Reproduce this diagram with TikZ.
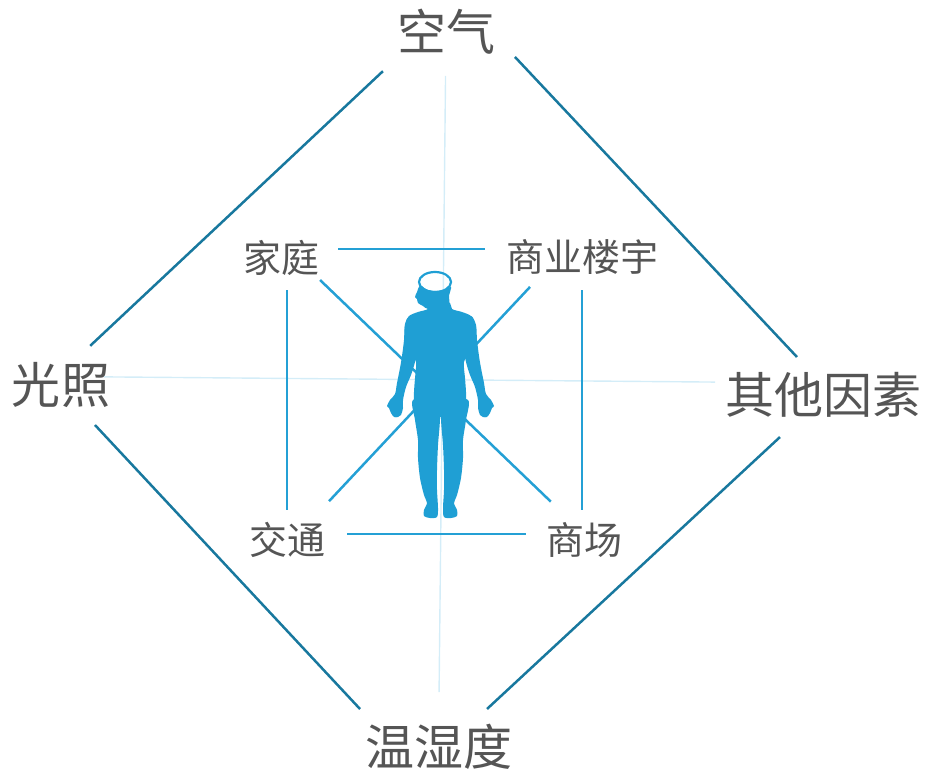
\documentclass[tikz,border=0pt]{standalone}
\usepackage{fontspec}
\newfontfamily\cjk{Noto Sans CJK SC}
\usepackage{tikz}

\definecolor{outerline}{HTML}{18789E}
\definecolor{innerline}{HTML}{24A0D5}
\definecolor{bodyblue}{HTML}{1F9FD4}
\definecolor{gridline}{HTML}{D4EDF8}
\definecolor{labelgray}{HTML}{555555}

\begin{document}
\begin{tikzpicture}[
  x=1pt, y=-1pt,
  factor/.style={font=\cjk\fontsize{49}{49}\selectfont, text=labelgray,
                 inner sep=0pt, text height=41pt, text depth=4pt},
  place/.style={font=\cjk\fontsize{38}{38}\selectfont, text=labelgray,
                inner sep=0pt, text height=32pt, text depth=3pt},
  outer/.style={draw=outerline, line width=2.5pt},
  inner/.style={draw=innerline, line width=2.5pt},
  axis/.style={draw=gridline, line width=1.4pt},
  body/.style={fill=bodyblue}
]
  \useasboundingbox (0,0) rectangle (925,771);

  % four outer factors
  \node[factor] (air)   at (446,32)      {空气};
  \node[factor] (light) at (61,384.5)    {光照};
  \node[factor] (other) at (823,395)     {其他因素};
  \node[factor] (humid) at (438.5,746.5) {温湿度};

  % four places around the person
  \node[place] (home)    at (281.5,257.5) {家庭};
  \node[place] (office)  at (582,257)     {商业楼宇};
  \node[place] (traffic) at (287,540)     {交通};
  \node[place] (mall)    at (584,540)     {商场};

  % faint cross behind everything
  \draw[axis, shorten <=44pt, shorten >=54.5pt] (air.center) -- (humid.center);
  \draw[axis, shorten <=43pt, shorten >=108pt]
    ([yshift=8pt]light.center) -- ([yshift=12pt]other.center);

  % inner square and its diagonals
  \draw[inner, shorten <=56.5pt, shorten >=97pt]
    ([yshift=8.5pt]home.center) -- ([yshift=8pt]office.center);
  \draw[inner, shorten <=60pt, shorten >=58pt]
    ([yshift=6pt]traffic.center) -- ([yshift=6pt]mall.center);
  \draw[inner, shorten <=32.5pt, shorten >=30pt]
    (home.center -| traffic.center) -- (traffic.center);
  \draw[inner, shorten <=33pt, shorten >=30pt]
    (office.center) -- (office.center |- mall.center);
  \draw[inner, shorten <=53.5pt, shorten >=46pt]
    ([yshift=14.5pt]home.center) -- ([yshift=6.5pt]mall.center);
  \draw[inner, shorten <=76pt, shorten >=61.5pt]
    ([yshift=25.5pt]office.center) -- ([yshift=-6pt]traffic.center);

  % outer diamond, broken at the labels
  \draw[outer, shorten <=86.5pt, shorten >=40pt]
    ([yshift=20pt]air.center) -- ([yshift=11.3pt]light.center);
  \draw[outer, shorten <=100.7pt, shorten >=38pt]
    ([yshift=48.4pt]air.center) -- ([yshift=10.3pt]other.center);
  \draw[outer, shorten <=58.7pt, shorten >=66.2pt]
    ([yshift=-2.1pt]other.center) -- ([yshift=-7.5pt]humid.center);
  \draw[outer, shorten <=49.8pt, shorten >=115pt]
    ([yshift=-4.1pt]light.center) -- ([yshift=-46.6pt]humid.center);

  % the person: torso, arms, legs, head
  \fill[body] plot[smooth cycle, tension=0.5] coordinates {
    (430,303) (428,309) (418,312) (409,316) (405,324) (405,338)
    (410,352) (416,362) (415,378) (414,392) (414,408) (418,420)
    (440,417) (462,420) (466,408) (466,392) (465,378) (464,362)
    (470,352) (475,338) (475,324) (471,316) (462,312) (452,309)
    (450,303) (440,300)};
  \fill[body] plot[smooth cycle, tension=0.5] coordinates {
    (410,316) (405,325) (404,340) (402,356) (400,368) (397,383)
    (395,394) (390,400) (387,406) (389,408) (391,413) (394,417)
    (398,417) (401,415) (403,408) (403,400) (406,387) (411,375)
    (415,362) (418,345) (418,325)};
  \fill[body] plot[smooth cycle, tension=0.5] coordinates {
    (471,316) (476,325) (477,340) (479,356) (481,368) (484,383)
    (486,394) (491,400) (494,406) (492,408) (490,413) (487,417)
    (483,417) (480,415) (478,408) (478,400) (475,387) (470,375)
    (466,362) (463,345) (463,325)};
  \fill[body] plot[smooth cycle, tension=0.5] coordinates {
    (413,400) (415,420) (418,440) (418,458) (420,478) (424,495)
    (427,503) (424,510) (424,516) (430,518) (437,517) (438,508)
    (437,490) (437,470) (438,445) (440,415) (435,400)};
  \fill[body] plot[smooth cycle, tension=0.5] coordinates {
    (468,400) (466,420) (463,440) (463,458) (461,478) (457,495)
    (454,503) (457,510) (457,516) (451,518) (444,517) (443,508)
    (444,490) (444,470) (443,445) (441,415) (446,400)};
  \fill[body] plot[smooth cycle, tension=0.5] coordinates {
    (420,286) (417,292) (415,297) (417,299) (418,303) (423,306)
    (428,309) (440,307) (449,304) (449,296) (451,287) (444,290)
    (436,291) (428,290)};
  \draw[draw=bodyblue, line width=2.2pt] (435,282) ellipse [x radius=16, y radius=10];
\end{tikzpicture}
\end{document}
